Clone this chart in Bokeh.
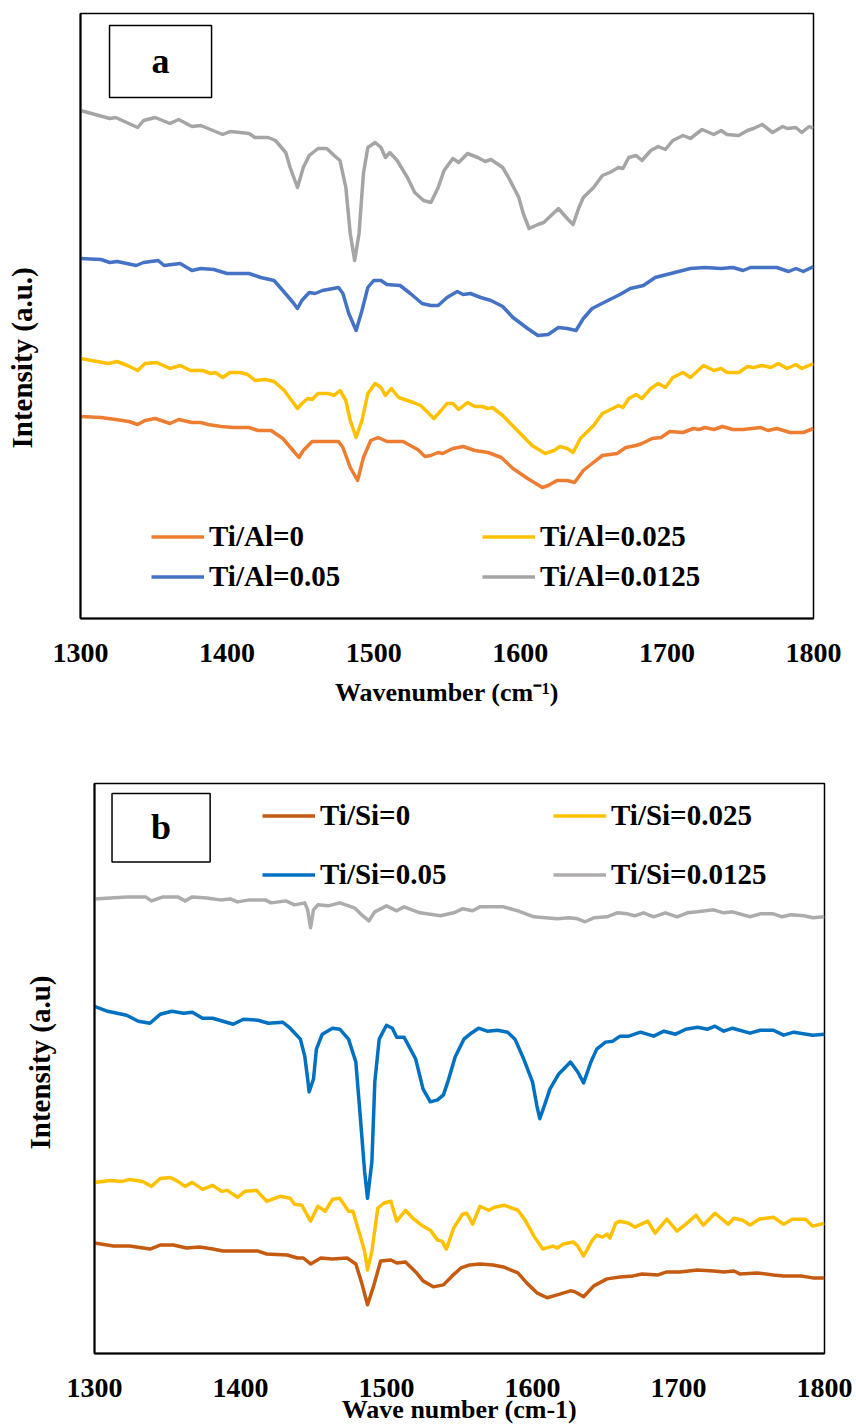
from bokeh.plotting import figure
from bokeh.models import Range1d, FixedTicker, Legend, LegendItem, Title, BoxAnnotation, Label
from bokeh.embed import file_html
from bokeh.resources import INLINE

FONT = "Liberation Serif"
TICKS = [1300, 1400, 1500, 1600, 1700, 1800]

# ---------------- Panel a data (Ti/Al) ----------------
A_GRAY_X = [1300,1320,1324,1339,1343,1351,1361,1367,1376,1382,1397,1402,1409,1415,1419,1428,1433,1440,1443,1448,
            1452,1456,1462,1468,1473,1477,1481,1484,1487,1490,1493,1496,1501,1505,1508,1511,1516,1523,1528,1534,
            1539,1544,1548,1554,1558,1564,1571,1576,1580,1588,1592,1599,1602,1606,1612,1616,1626,1632,1636,1640,
            1643,1650,1656,1661,1667,1670,1674,1679,1683,1689,1694,1699,1704,1711,1716,1724,1732,1737,1741,1749,
            1755,1759,1765,1772,1779,1782,1788,1792,1797,1800]
A_GRAY_Y = [508,500,501,491,498,501,495,499,492,493,484,487,486,485,481,481,478,466,451,431,
            451,463,470,470,463,458,431,385,358,385,445,471,476,471,461,466,458,441,426,418,
            416,431,448,460,456,465,461,457,459,451,441,421,405,390,394,396,410,400,394,411,
            421,431,443,446,451,450,461,463,458,468,472,469,478,483,480,489,484,488,484,483,
            488,490,494,486,492,490,491,486,492,490]

A_BLUE_X = [1300,1314,1320,1325,1338,1343,1353,1357,1368,1376,1382,1391,1400,1415,1423,1432,1438,1445,1448,1451,
            1456,1460,1465,1476,1479,1483,1488,1492,1496,1500,1505,1509,1518,1525,1533,1539,1544,1550,1557,1561,
            1566,1573,1580,1588,1595,1605,1612,1619,1626,1632,1638,1643,1649,1657,1668,1675,1684,1692,1700,1708,
            1716,1726,1737,1745,1752,1757,1769,1775,1783,1788,1793,1800]
A_BLUE_Y = [360,359,356,357,353,356,358,353,355,348,350,349,345,345,341,338,328,316,310,318,
            326,325,328,331,325,305,288,308,331,338,338,334,333,325,315,313,313,321,327,324,
            325,321,318,312,301,290,283,284,291,290,288,300,310,316,324,330,333,341,344,347,
            350,351,350,351,348,351,351,351,347,350,347,352]

A_YEL_X = [1300,1319,1325,1332,1339,1344,1352,1361,1368,1375,1383,1389,1392,1397,1402,1409,1414,1419,1426,1432,
           1439,1443,1448,1451,1455,1458,1462,1469,1473,1477,1481,1484,1488,1492,1496,1501,1505,1508,1512,1517,
           1527,1532,1537,1541,1546,1550,1554,1558,1564,1569,1574,1578,1581,1588,1598,1608,1617,1623,1627,1632,
           1636,1641,1650,1656,1663,1667,1670,1674,1679,1683,1689,1694,1699,1704,1711,1716,1725,1732,1737,1741,
           1749,1755,1759,1765,1771,1776,1782,1788,1792,1800]
A_YEL_Y = [260,255,257,253,248,255,256,250,253,248,248,245,246,241,246,246,244,238,239,237,
           228,220,210,215,220,219,225,225,223,228,218,198,181,198,225,235,231,223,230,221,
           216,213,206,200,208,215,215,209,216,212,212,210,211,203,188,173,165,168,172,170,
           166,180,193,205,210,213,211,220,224,220,230,235,231,241,246,241,253,248,250,246,
           246,252,251,253,251,255,250,254,250,255]

A_ORG_X = [1300,1314,1324,1333,1339,1344,1351,1361,1367,1376,1382,1387,1396,1404,1415,1421,1430,1438,1445,1449,
           1452,1458,1476,1479,1484,1489,1493,1498,1503,1509,1520,1530,1535,1539,1544,1547,1554,1561,1569,1578,
           1587,1595,1605,1615,1619,1625,1632,1637,1643,1649,1656,1666,1672,1679,1683,1690,1696,1702,1711,1718,
           1722,1726,1732,1738,1745,1752,1764,1769,1775,1784,1793,1800]
A_ORG_Y = [202,201,199,197,194,198,200,195,199,196,196,194,192,191,191,188,188,180,168,161,
           168,177,177,171,151,138,161,178,181,177,177,169,162,163,166,165,170,172,168,166,
           161,150,140,131,133,138,138,136,148,155,163,165,171,173,175,180,181,187,186,190,
           189,191,189,192,189,189,191,188,190,186,186,190]

# ---------------- Panel b data (Ti/Si) ----------------
B_GRAY_X = [1300,1322,1335,1339,1347,1357,1362,1367,1377,1386,1393,1398,1406,1417,1421,1431,1437,1444,1446,1448,
            1450,1453,1460,1468,1478,1483,1488,1492,1500,1507,1512,1523,1537,1546,1552,1559,1564,1572,1580,1590,
            1601,1617,1625,1631,1636,1642,1651,1658,1665,1670,1676,1683,1691,1699,1706,1713,1724,1731,1737,1749,
            1756,1765,1771,1777,1786,1792,1800]
B_GRAY_Y = [457,459,459,455,459,459,455,459,458,456,457,454,456,456,453,455,451,453,446,428,
            446,451,450,453,448,441,435,444,450,445,449,443,440,443,447,445,449,449,449,445,
            439,437,438,437,434,438,439,443,442,440,443,439,443,439,443,444,446,443,444,439,
            442,442,439,441,440,438,439]

B_BLUE_X = [1300,1309,1322,1330,1338,1345,1353,1361,1367,1374,1381,1395,1402,1412,1419,1429,1434,1441,1444,1446,
            1447,1450,1452,1456,1463,1468,1474,1479,1482,1485,1487,1490,1492,1495,1500,1504,1507,1512,1520,1525,
            1530,1535,1539,1542,1547,1553,1558,1563,1569,1576,1583,1588,1594,1600,1603,1605,1609,1612,1618,1626,
            1631,1635,1640,1644,1650,1655,1660,1666,1674,1683,1690,1698,1705,1713,1720,1725,1731,1737,1749,1756,
            1765,1772,1779,1792,1800]
B_BLUE_Y = [349,344,340,334,332,341,344,342,343,337,337,331,336,335,332,333,327,316,299,276,
            263,276,306,321,327,326,316,293,239,183,156,193,273,316,330,327,318,318,296,266,
            253,255,260,273,298,316,322,327,324,325,323,316,296,273,249,236,253,266,281,293,
            283,272,293,306,313,314,319,319,323,319,324,321,326,328,326,329,324,327,322,325,
            325,320,323,320,321]

B_YEL_X = [1300,1311,1319,1324,1333,1339,1345,1352,1357,1362,1367,1374,1381,1387,1391,1398,1403,1411,1418,1427,
           1434,1437,1442,1448,1453,1458,1463,1468,1474,1477,1482,1485,1487,1490,1494,1498,1503,1507,1513,1518,
           1524,1530,1535,1538,1541,1546,1552,1555,1559,1564,1570,1574,1581,1590,1595,1601,1607,1614,1617,1621,
           1628,1631,1635,1641,1644,1648,1651,1653,1657,1660,1666,1670,1679,1684,1692,1699,1705,1712,1717,1725,
           1734,1738,1744,1749,1755,1765,1772,1778,1787,1792,1800]
B_YEL_Y = [172,174,173,175,173,168,176,177,173,168,172,165,169,163,164,157,163,164,153,158,
           156,150,149,133,148,143,155,156,143,143,118,103,84,103,146,151,153,133,144,136,
           129,124,114,113,105,126,140,141,130,148,144,147,149,144,134,118,105,108,106,110,
           112,108,98,114,119,117,120,116,131,133,131,127,133,121,135,123,130,139,129,141,
           130,136,134,129,135,137,130,135,135,128,131]

B_ORG_X = [1300,1313,1324,1338,1345,1354,1363,1372,1381,1388,1405,1412,1418,1432,1439,1443,1448,1455,1463,1473,
           1479,1483,1487,1491,1496,1503,1507,1513,1520,1525,1532,1539,1545,1551,1557,1564,1573,1580,1590,1596,
           1603,1610,1617,1626,1629,1635,1642,1651,1660,1669,1675,1686,1692,1701,1713,1724,1731,1738,1742,1754,
           1765,1772,1784,1792,1800]
B_ORG_Y = [111,108,108,105,109,109,106,107,105,103,103,103,100,99,96,96,90,96,95,96,
           90,71,49,67,93,94,91,92,82,73,67,69,78,86,89,90,89,87,81,71,
           61,56,59,63,62,57,68,75,77,78,80,79,82,82,84,83,82,83,80,81,
           79,78,78,76,76]

A_LABELS = ["Ti/Al=0", "Ti/Al=0.05", "Ti/Al=0.025", "Ti/Al=0.0125"]
B_LABELS = ["Ti/Si=0", "Ti/Si=0.05", "Ti/Si=0.025", "Ti/Si=0.0125"]


def make_fig(h, left, right, top, bottom, ymax, y_gap):
    p = figure(width=856, height=h, output_backend="svg", toolbar_location=None,
               x_range=Range1d(1300, 1800), y_range=Range1d(0, ymax),
               min_border_left=left, min_border_right=right,
               min_border_top=top, min_border_bottom=bottom)
    p.grid.visible = False
    p.background_fill_color = "white"
    p.border_fill_color = "white"
    p.outline_line_color = "black"
    p.outline_line_width = 1.5
    ax = p.xaxis[0]
    ax.ticker = FixedTicker(ticks=TICKS)
    ax.major_tick_out = 0
    ax.major_tick_in = 0
    ax.minor_tick_out = 0
    ax.minor_tick_in = 0
    ax.axis_line_width = 2
    ax.axis_line_color = "black"
    ax.major_label_text_font = FONT
    ax.major_label_text_font_style = "bold"
    ax.major_label_text_font_size = "28px"
    ax.major_label_text_color = "black"
    ax.axis_label_text_font = FONT
    ax.axis_label_text_font_style = "bold"
    ax.axis_label_text_font_size = "26px"
    ax.axis_label_text_color = "black"
    ay = p.yaxis[0]
    ay.ticker = FixedTicker(ticks=[])
    ay.major_tick_out = 0
    ay.major_tick_in = 0
    ay.minor_tick_out = 0
    ay.minor_tick_in = 0
    ay.major_label_standoff = 0
    ay.axis_line_width = 2
    ay.axis_line_color = "black"
    # invisible spacer label that pushes the title away from the frame
    ay.axis_label = " "
    ay.axis_label_text_font_size = "1px"
    ay.axis_label_standoff = y_gap
    return p


def add_legend(p, items, loc, spacing):
    lg = Legend(items=items, location=loc, orientation="vertical",
                label_text_font=FONT, label_text_font_style="bold",
                label_text_font_size="29px", label_text_color="black",
                glyph_width=53, glyph_height=31, label_standoff=5,
                spacing=spacing, padding=0, border_line_color=None,
                background_fill_alpha=0)
    p.add_layout(lg)


lw = 3.5

# ---------------- Panel a ----------------
pa = make_fig(720, 80, 43, 13, 102, 605, 39)
pa.xaxis.axis_label = "Wavenumber (cm\u207b\u00b9)"
pa.xaxis.major_label_standoff = 25
pa.xaxis.axis_label_standoff = 13
ra_org = pa.line(A_ORG_X, A_ORG_Y, line_color="#ED7D31", line_width=lw, line_join="round")
ra_yel = pa.line(A_YEL_X, A_YEL_Y, line_color="#FFC000", line_width=lw, line_join="round")
ra_blu = pa.line(A_BLUE_X, A_BLUE_Y, line_color="#4472C4", line_width=lw, line_join="round")
ra_gry = pa.line(A_GRAY_X, A_GRAY_Y, line_color="#A5A5A5", line_width=lw, line_join="round")
add_legend(pa, [LegendItem(label=A_LABELS[0], renderers=[ra_org]),
                LegendItem(label=A_LABELS[1], renderers=[ra_blu])], (71, 25), 7)
add_legend(pa, [LegendItem(label=A_LABELS[2], renderers=[ra_yel]),
                LegendItem(label=A_LABELS[3], renderers=[ra_gry])], (402, 25), 7)
pa.add_layout(Title(text="Intensity (a.u.)", align="left", offset=170, standoff=0,
                    vertical_align="bottom", text_font=FONT, text_font_style="bold",
                    text_font_size="29px", text_color="black"), "left")
pa.add_layout(BoxAnnotation(left=1319.8, right=1389.4, bottom=521, top=593,
                            fill_alpha=0, line_color="black", line_alpha=1.0, line_width=1.5))
pa.add_layout(Label(x=1354.6, y=558, text="a", text_align="center", text_baseline="middle",
                    text_font=FONT, text_font_style="bold", text_font_size="36px",
                    text_color="black"))

# ---------------- Panel b ----------------
pb = make_fig(706, 94, 32, 63, 70, 573, 35)
pb.xaxis.axis_label = "Wave number (cm-1)"
pb.xaxis.major_label_standoff = 25
pb.xaxis.axis_label_standoff = -5
rb_org = pb.line(B_ORG_X, B_ORG_Y, line_color="#C55A11", line_width=lw, line_join="round")
rb_yel = pb.line(B_YEL_X, B_YEL_Y, line_color="#FFC000", line_width=lw, line_join="round")
rb_blu = pb.line(B_BLUE_X, B_BLUE_Y, line_color="#0070C0", line_width=lw, line_join="round")
rb_gry = pb.line(B_GRAY_X, B_GRAY_Y, line_color="#AEABAB", line_width=lw, line_join="round")
add_legend(pb, [LegendItem(label=B_LABELS[0], renderers=[rb_org]),
                LegendItem(label=B_LABELS[1], renderers=[rb_blu])], (168, 462), 26)
add_legend(pb, [LegendItem(label=B_LABELS[2], renderers=[rb_yel]),
                LegendItem(label=B_LABELS[3], renderers=[rb_gry])], (459, 462), 26)
pb.add_layout(Title(text="Intensity (a.u)", align="left", offset=204, standoff=0,
                    vertical_align="bottom", text_font=FONT, text_font_style="bold",
                    text_font_size="29px", text_color="black"), "left")
pb.add_layout(BoxAnnotation(left=1312.0, right=1379.2, bottom=494, top=563,
                            fill_alpha=0, line_color="black", line_alpha=1.0, line_width=1.5))
pb.add_layout(Label(x=1345.6, y=529, text="b", text_align="center", text_baseline="middle",
                    text_font=FONT, text_font_style="bold", text_font_size="36px",
                    text_color="black"))

open("out.html", "w").write(file_html([pa, pb], INLINE))
